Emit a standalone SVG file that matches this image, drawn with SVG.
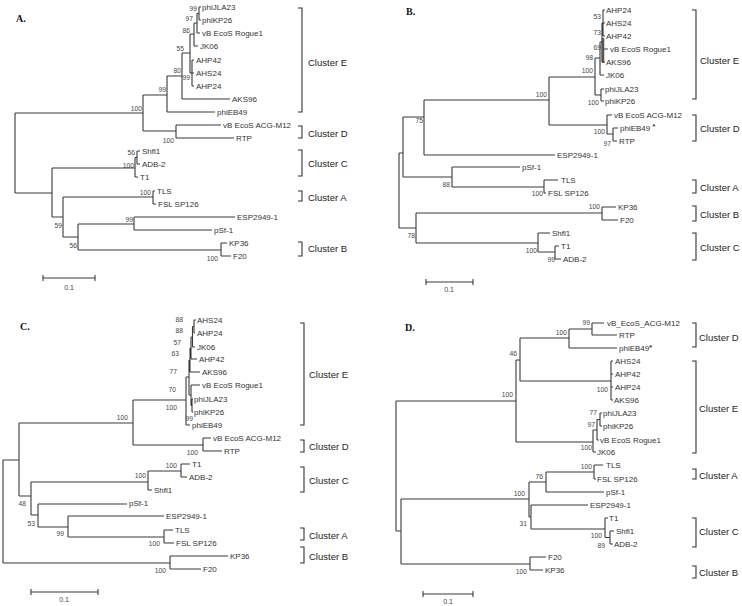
<svg xmlns="http://www.w3.org/2000/svg" width="742" height="606" viewBox="0 0 742 606">
<style>
.br{fill:none;stroke:#3a3a3a;stroke-width:1.1}
.bar{fill:none;stroke:#555;stroke-width:2.5}
.bk{fill:none;stroke:#333;stroke-width:1.1}
.lf{font-family:"Liberation Sans",Arial,sans-serif;font-size:8px;fill:#333;dominant-baseline:central}
.bs{font-family:"Liberation Sans",Arial,sans-serif;font-size:6.7px;fill:#444;text-anchor:end;dominant-baseline:central}
.bsg{opacity:0.99}
.cl{font-family:"Liberation Sans",Arial,sans-serif;font-size:9.5px;fill:#222;dominant-baseline:central}
.pl{font-family:"Liberation Serif","Times New Roman",serif;font-size:10px;font-weight:bold;fill:#111}
.sc{font-family:"Liberation Sans",Arial,sans-serif;font-size:7px;fill:#444;text-anchor:middle;dominant-baseline:central}
.ast{font-weight:bold;font-size:7px}
</style>
<rect width="742" height="606" fill="#fff"/>

<!-- ================= PANEL A ================= -->
<g id="panelA">
<text class="pl" x="16" y="22">A.</text>
<g id="A-connectors">
<path class="br" d="M15,113V193M15,113H143M15,193H52M143,95V131M143,95H167M143,131H176M167,76V112M167,112H215M167,76H182M182,53V99M182,99H230M182,53H190M190,34V73M190,73H192M190,34H194M192,60V86M192,60H194M192,73H194M192,86H194M194,23V46M194,46H198M194,23H197M197,13.5V33M197,33H200M197,13.5H199M199,7V20M199,7H201M199,20H201M176,125V138M176,125H221M176,138H234M52,168V217M52,168H135M52,217H63M135,157.5V177M135,177H138M135,157.5H137M137,151V164M137,151H140M137,164H140M63,197V237M63,197H153M63,237H78M153,191V204M153,191H155M153,204H156M78,224V250M78,224H134M78,250H221M134,217V230M134,217H235M134,230H212M221,243V256M221,243H227M221,256H231"/>
<path class="br" d="M43,278H95M43,275V281M95,275V281"/>
</g>
<text class="sc" x="69" y="287">0.1</text>
<g id="A-leaves">
<g id="A-phiJLA23"><text class="lf" x="202" y="7">phiJLA23</text></g>
<g id="A-phiKP26"><text class="lf" x="202" y="20">phiKP26</text></g>
<g id="A-Rogue1"><text class="lf" x="202" y="33">vB EcoS Rogue1</text></g>
<g id="A-JK06"><text class="lf" x="200" y="46">JK06</text></g>
<g id="A-AHP42"><text class="lf" x="196" y="60">AHP42</text></g>
<g id="A-AHS24"><text class="lf" x="196" y="73">AHS24</text></g>
<g id="A-AHP24"><text class="lf" x="196" y="86">AHP24</text></g>
<g id="A-AKS96"><text class="lf" x="232" y="99">AKS96</text></g>
<g id="A-phiEB49"><text class="lf" x="217" y="112">phiEB49</text></g>
<g id="A-ACGM12"><text class="lf" x="223" y="125">vB EcoS ACG-M12</text></g>
<g id="A-RTP"><text class="lf" x="236" y="138">RTP</text></g>
<g id="A-Shfl1"><text class="lf" x="142" y="151">Shfl1</text></g>
<g id="A-ADB2"><text class="lf" x="142" y="164">ADB-2</text></g>
<g id="A-T1"><text class="lf" x="140" y="177">T1</text></g>
<g id="A-TLS"><text class="lf" x="157" y="191">TLS</text></g>
<g id="A-FSL"><text class="lf" x="158" y="204">FSL SP126</text></g>
<g id="A-ESP"><text class="lf" x="237" y="217">ESP2949-1</text></g>
<g id="A-pSf1"><text class="lf" x="214" y="230">pSf-1</text></g>
<g id="A-KP36"><text class="lf" x="229" y="243">KP36</text></g>
<g id="A-F20"><text class="lf" x="233" y="256">F20</text></g>
</g>
<g id="A-bootstrap" class="bsg">
<text class="bs" x="197" y="8">99</text><text class="bs" x="193" y="18">97</text><text class="bs" x="190" y="30">86</text>
<text class="bs" x="184" y="48">55</text><text class="bs" x="181" y="70">80</text><text class="bs" x="190" y="77">99</text>
<text class="bs" x="166" y="89">99</text><text class="bs" x="142" y="108">100</text><text class="bs" x="174" y="140">100</text>
<text class="bs" x="135" y="152">56</text><text class="bs" x="134" y="165">100</text><text class="bs" x="151" y="192">100</text>
<text class="bs" x="62" y="225">59</text><text class="bs" x="133" y="219">99</text><text class="bs" x="77" y="245">56</text>
<text class="bs" x="218" y="258">100</text>
</g>
<g id="A-clusters">
<g id="A-clE"><path class="bk" d="M298,8H302V112H298"/><text class="cl" x="308" y="62">Cluster E</text></g>
<g id="A-clD"><path class="bk" d="M298,126H302V138H298"/><text class="cl" x="308" y="133">Cluster D</text></g>
<g id="A-clC"><path class="bk" d="M298,150H302V176H298"/><text class="cl" x="308" y="163">Cluster C</text></g>
<g id="A-clA"><path class="bk" d="M298,191H302V201H298"/><text class="cl" x="308" y="197">Cluster A</text></g>
<g id="A-clB"><path class="bk" d="M298,242H302V256H298"/><text class="cl" x="308" y="248">Cluster B</text></g>
</g>
</g>

<!-- ================= PANEL B ================= -->
<g id="panelB">
<text class="pl" x="406" y="15">B.</text>
<g id="B-connectors">
<path class="br" d="M399,153V228M399,153H403M399,228H416M403,117V177M403,117H424M403,177H452M424,100V155M424,100H549M424,155H555M549,77V125M549,77H595M549,125H607M595,58V95M595,58H600M595,95H601M600,42V75M600,75H604M600,42H602M602,23V62M602,49H608M602,62H605M602,23H603M603,10V36M603,10H605M603,23H605M603,36H605M601,89V101M601,89H604M601,101H604M607,115V134M607,115H612M607,134H613M613,128V141M613,128H618M613,141H617M452,167V187M452,167H520M452,187H544M544,180V193M544,180H558M544,193H546M416,213V243M416,213H602M416,243H538M602,207V220M602,207H616M602,220H618M538,233V252M538,233H550M538,252H555M555,246V259M555,246H559M555,259H561"/>
<path class="bar" d="M603,38V63"/>
<path class="br" d="M426,282H473M426,279V285M473,279V285"/>
</g>
<text class="sc" x="449" y="289">0.1</text>
<g id="B-leaves">
<g id="B-AHP24"><text class="lf" x="606" y="10">AHP24</text></g>
<g id="B-AHS24"><text class="lf" x="606" y="23">AHS24</text></g>
<g id="B-AHP42"><text class="lf" x="606" y="36">AHP42</text></g>
<g id="B-Rogue1"><text class="lf" x="610" y="49">vB EcoS Rogue1</text></g>
<g id="B-AKS96"><text class="lf" x="606" y="62">AKS96</text></g>
<g id="B-JK06"><text class="lf" x="606" y="75">JK06</text></g>
<g id="B-phiJLA23"><text class="lf" x="605" y="89">phiJLA23</text></g>
<g id="B-phiKP26"><text class="lf" x="605" y="101">phiKP26</text></g>
<g id="B-ACGM12"><text class="lf" x="614" y="115">vB EcoS ACG-M12</text></g>
<g id="B-phiEB49"><text class="lf" x="620" y="128">phiEB49 <tspan class="ast" dy="-2">*</tspan></text></g>
<g id="B-RTP"><text class="lf" x="619" y="141">RTP</text></g>
<g id="B-ESP"><text class="lf" x="557" y="155">ESP2949-1</text></g>
<g id="B-pSf1"><text class="lf" x="522" y="167">pSf-1</text></g>
<g id="B-TLS"><text class="lf" x="561" y="180">TLS</text></g>
<g id="B-FSL"><text class="lf" x="548" y="193">FSL SP126</text></g>
<g id="B-KP36"><text class="lf" x="618" y="207">KP36</text></g>
<g id="B-F20"><text class="lf" x="620" y="220">F20</text></g>
<g id="B-Shfl1"><text class="lf" x="552" y="233">Shfl1</text></g>
<g id="B-T1"><text class="lf" x="561" y="246">T1</text></g>
<g id="B-ADB2"><text class="lf" x="563" y="259">ADB-2</text></g>
</g>
<g id="B-bootstrap" class="bsg">
<text class="bs" x="601" y="16">53</text><text class="bs" x="601" y="32">73</text><text class="bs" x="601" y="47">69</text>
<text class="bs" x="593" y="57">98</text><text class="bs" x="593" y="70">100</text><text class="bs" x="547" y="94">100</text>
<text class="bs" x="599" y="102">100</text><text class="bs" x="423" y="120">75</text><text class="bs" x="605" y="131">100</text>
<text class="bs" x="611" y="143">97</text><text class="bs" x="450" y="184">88</text><text class="bs" x="543" y="193">100</text>
<text class="bs" x="600" y="206">100</text><text class="bs" x="415" y="235">78</text><text class="bs" x="537" y="250">100</text>
<text class="bs" x="555" y="259">99</text>
</g>
<g id="B-clusters">
<g id="B-clE"><path class="bk" d="M692,10H696V99H692"/><text class="cl" x="700" y="60">Cluster E</text></g>
<g id="B-clD"><path class="bk" d="M692,115H696V141H692"/><text class="cl" x="700" y="128">Cluster D</text></g>
<g id="B-clA"><path class="bk" d="M692,180H696V193H692"/><text class="cl" x="700" y="187">Cluster A</text></g>
<g id="B-clB"><path class="bk" d="M692,206H696V221H692"/><text class="cl" x="700" y="214">Cluster B</text></g>
<g id="B-clC"><path class="bk" d="M692,233H696V260H692"/><text class="cl" x="700" y="247">Cluster C</text></g>
</g>
</g>

<!-- ================= PANEL C ================= -->
<g id="panelC">
<text class="pl" x="20" y="330">C.</text>
<g id="C-connectors">
<path class="br" d="M3,460V563M3,460H19M3,563H170M19,423V496M19,423H133M19,496H31M133,400V445M133,400H186M133,445H203M186,377V425M186,425H190M186,377H189M189,360V395M189,360H190M189,395H191M190,348V372M190,372H200M190,348H191M191,337V359M191,359H197M191,337H192.5M192.5,326.5V347M192.5,347H195M192.5,326.5H194M194,320V333M194,320H196M194,333H195M191,385V405.5M191,385H200M191,405.5H192M192,399V412M192,399H193M192,412H193M203,438V451M203,438H211M203,451H222M31,482V515M31,482H148M31,515H38M148,471V490M148,471H181M148,490H152M181,464V477M181,464H190M181,477H187M38,504V527M38,504H127M38,527H68M68,516V537M68,516H164M68,537H164M164,530V543M164,530H173M164,543H174M170,556V569M170,556H228M170,569H201"/>
<path class="br" d="M31,592H98M31,589V595M98,589V595"/>
</g>
<text class="sc" x="64" y="599">0.1</text>
<g id="C-leaves">
<g id="C-AHS24"><text class="lf" x="197" y="320">AHS24</text></g>
<g id="C-AHP24"><text class="lf" x="197" y="333">AHP24</text></g>
<g id="C-JK06"><text class="lf" x="197" y="347">JK06</text></g>
<g id="C-AHP42"><text class="lf" x="199" y="359">AHP42</text></g>
<g id="C-AKS96"><text class="lf" x="202" y="372">AKS96</text></g>
<g id="C-Rogue1"><text class="lf" x="202" y="385">vB EcoS Rogue1</text></g>
<g id="C-phiJLA23"><text class="lf" x="194" y="399">phiJLA23</text></g>
<g id="C-phiKP26"><text class="lf" x="194" y="412">phiKP26</text></g>
<g id="C-phiEB49"><text class="lf" x="192" y="425">phiEB49</text></g>
<g id="C-ACGM12"><text class="lf" x="213" y="438">vB EcoS ACG-M12</text></g>
<g id="C-RTP"><text class="lf" x="224" y="451">RTP</text></g>
<g id="C-T1"><text class="lf" x="192" y="464">T1</text></g>
<g id="C-ADB2"><text class="lf" x="189" y="477">ADB-2</text></g>
<g id="C-Shfl1"><text class="lf" x="154" y="490">Shfl1</text></g>
<g id="C-pSf1"><text class="lf" x="129" y="503">pSf-1</text></g>
<g id="C-ESP"><text class="lf" x="166" y="516">ESP2949-1</text></g>
<g id="C-TLS"><text class="lf" x="175" y="530">TLS</text></g>
<g id="C-FSL"><text class="lf" x="176" y="543">FSL SP126</text></g>
<g id="C-KP36"><text class="lf" x="230" y="556">KP36</text></g>
<g id="C-F20"><text class="lf" x="203" y="569">F20</text></g>
</g>
<g id="C-bootstrap" class="bsg">
<text class="bs" x="183" y="319">88</text><text class="bs" x="183" y="330">88</text><text class="bs" x="181" y="342">57</text>
<text class="bs" x="179" y="353">63</text><text class="bs" x="177" y="371">77</text><text class="bs" x="176" y="389">70</text>
<text class="bs" x="177" y="407">100</text><text class="bs" x="193" y="418">99</text><text class="bs" x="128" y="417">100</text>
<text class="bs" x="198" y="452">100</text><text class="bs" x="177" y="465">100</text><text class="bs" x="146" y="475">100</text>
<text class="bs" x="26" y="503">48</text><text class="bs" x="35" y="523">53</text><text class="bs" x="64" y="533">99</text>
<text class="bs" x="160" y="543">100</text><text class="bs" x="166" y="570">100</text>
</g>
<g id="C-clusters">
<g id="C-clE"><path class="bk" d="M300,323H304V425H300"/><text class="cl" x="309" y="374">Cluster E</text></g>
<g id="C-clD"><path class="bk" d="M300,440H304V452H300"/><text class="cl" x="309" y="446">Cluster D</text></g>
<g id="C-clC"><path class="bk" d="M300,467H304V492H300"/><text class="cl" x="309" y="480">Cluster C</text></g>
<g id="C-clA"><path class="bk" d="M300,528H304V540H300"/><text class="cl" x="309" y="535">Cluster A</text></g>
<g id="C-clB"><path class="bk" d="M300,547H304V563H300"/><text class="cl" x="309" y="556">Cluster B</text></g>
</g>
</g>

<!-- ================= PANEL D ================= -->
<g id="panelD">
<text class="pl" x="405" y="331">D.</text>
<g id="D-connectors">
<path class="br" d="M396,401V531M396,401H516M396,531H401M516,360V442M516,360H520M516,442H593M520,338V381M520,338H569M520,381H611M569,329V348M569,329H592M569,348H617M592,323V335M592,323H604M592,335H617M611,361V400M611,361H613M611,374H613M611,387H613M611,400H613M593,430V452M593,452H596M593,430H597M597,419.5V440M597,440H599M597,419.5H600M600,413V426M600,413H602M600,426H602M401,499V564M401,499H529M401,564H530M529,482V517M529,482H546M529,517H531M546,472V492M546,472H594M546,492H604M594,465V479M594,465H603M594,479H596M531,505V529M531,505H588M531,529H605M605,518V537.5M605,518H608M605,537.5H610M610,531V544M610,531H614M610,544H613M530,557V570M530,557H546M530,570H543"/>
<path class="br" d="M423,594H473M423,591V597M473,591V597"/>
</g>
<text class="sc" x="448" y="601">0.1</text>
<g id="D-leaves">
<g id="D-ACGM12"><text class="lf" x="607" y="323">vB_EcoS_ACG-M12</text></g>
<g id="D-RTP"><text class="lf" x="619" y="335">RTP</text></g>
<g id="D-phiEB49"><text class="lf" x="619" y="348">phiEB49<tspan class="ast" dy="-1">*</tspan></text></g>
<g id="D-AHS24"><text class="lf" x="615" y="361">AHS24</text></g>
<g id="D-AHP42"><text class="lf" x="615" y="374">AHP42</text></g>
<g id="D-AHP24"><text class="lf" x="615" y="387">AHP24</text></g>
<g id="D-AKS96"><text class="lf" x="614" y="400">AKS96</text></g>
<g id="D-phiJLA23"><text class="lf" x="603" y="413">phiJLA23</text></g>
<g id="D-phiKP26"><text class="lf" x="603" y="426">phiKP26</text></g>
<g id="D-Rogue1"><text class="lf" x="600" y="440">vB EcoS Rogue1</text></g>
<g id="D-JK06"><text class="lf" x="597" y="452">JK06</text></g>
<g id="D-TLS"><text class="lf" x="606" y="465">TLS</text></g>
<g id="D-FSL"><text class="lf" x="597" y="479">FSL SP126</text></g>
<g id="D-pSf1"><text class="lf" x="606" y="492">pSf-1</text></g>
<g id="D-ESP"><text class="lf" x="590" y="505">ESP2949-1</text></g>
<g id="D-T1"><text class="lf" x="609" y="518">T1</text></g>
<g id="D-Shfl1"><text class="lf" x="616" y="531">Shfl1</text></g>
<g id="D-ADB2"><text class="lf" x="614" y="544">ADB-2</text></g>
<g id="D-F20"><text class="lf" x="548" y="557">F20</text></g>
<g id="D-KP36"><text class="lf" x="545" y="570">KP36</text></g>
</g>
<g id="D-bootstrap" class="bsg">
<text class="bs" x="590" y="322">99</text><text class="bs" x="567" y="332">100</text><text class="bs" x="517" y="353">46</text>
<text class="bs" x="513" y="394">100</text><text class="bs" x="608" y="389">100</text><text class="bs" x="597" y="412">77</text>
<text class="bs" x="595" y="424">97</text><text class="bs" x="592" y="447">100</text><text class="bs" x="592" y="466">100</text>
<text class="bs" x="543" y="476">76</text><text class="bs" x="525" y="493">100</text><text class="bs" x="527" y="523">31</text>
<text class="bs" x="602" y="535">100</text><text class="bs" x="605" y="545">89</text><text class="bs" x="527" y="571">100</text>
</g>
<g id="D-clusters">
<g id="D-clD"><path class="bk" d="M692,323H696V347H692"/><text class="cl" x="699" y="337">Cluster D</text></g>
<g id="D-clE"><path class="bk" d="M692,361H696V453H692"/><text class="cl" x="699" y="408">Cluster E</text></g>
<g id="D-clA"><path class="bk" d="M692,469H696V479H692"/><text class="cl" x="699" y="475">Cluster A</text></g>
<g id="D-clC"><path class="bk" d="M692,518H696V547H692"/><text class="cl" x="699" y="531">Cluster C</text></g>
<g id="D-clB"><path class="bk" d="M692,566H696V578H692"/><text class="cl" x="699" y="572">Cluster B</text></g>
</g>
</g>
</svg>
